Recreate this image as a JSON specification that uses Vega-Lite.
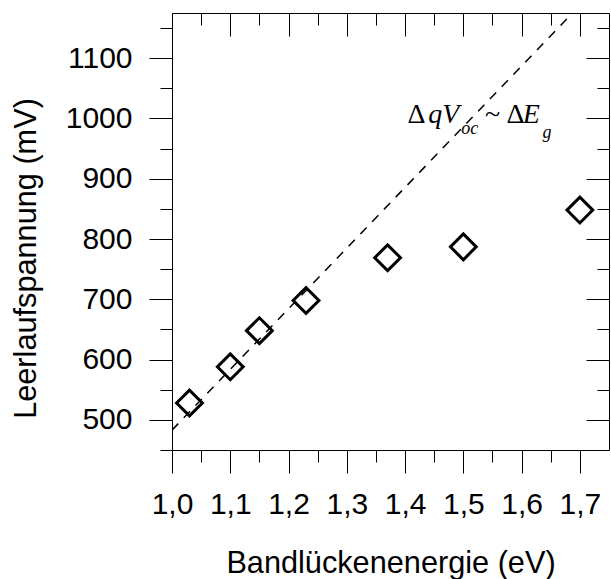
{
  "$schema": "https://vega.github.io/schema/vega-lite/v6.json",
  "width": 437,
  "height": 437,
  "autosize": {"type": "none"},
  "padding": {"left": 172, "top": 13, "right": 2, "bottom": 129},
  "background": "white",
  "config": {
    "view": {"stroke": null},
    "axis": {
      "grid": false,
      "domainColor": "black",
      "tickColor": "black",
      "labelColor": "black",
      "titleColor": "black",
      "labelFont": "Liberation Sans",
      "titleFont": "Liberation Sans",
      "labelFontSize": 30,
      "titleFontSize": 30.7,
      "titleFontWeight": "normal",
      "domainWidth": 1,
      "tickWidth": 1,
      "labelFlush": false,
      "labelOverlap": false
    }
  },
  "datasets": {
    "points": [
      {"e": 1.03, "v": 528},
      {"e": 1.10, "v": 588},
      {"e": 1.15, "v": 648},
      {"e": 1.23, "v": 698},
      {"e": 1.37, "v": 769},
      {"e": 1.50, "v": 787},
      {"e": 1.70, "v": 848}
    ],
    "fit": [
      {"e": 1.0, "v": 483},
      {"e": 1.75, "v": 1238}
    ],
    "upright": [
      {"e": 1.4040, "v": 991.7, "t": "Δ"},
      {"e": 1.5370, "v": 991.7, "t": "~"},
      {"e": 1.5740, "v": 991.7, "t": "Δ"}
    ],
    "italic": [
      {"e": 1.4400, "v": 991.7, "t": "q"},
      {"e": 1.4640, "v": 991.7, "t": "V"},
      {"e": 1.6020, "v": 991.7, "t": "E"}
    ],
    "sub": [
      {"e": 1.4964, "v": 975, "t": "oc"},
      {"e": 1.6358, "v": 967, "t": "g"}
    ]
  },
  "layer": [
    {
      "data": {"name": "fit"},
      "mark": {"type": "line", "color": "black", "strokeWidth": 1.5, "strokeDash": [9, 8], "clip": true},
      "encoding": {
        "x": {
          "field": "e", "type": "quantitative",
          "scale": {"domain": [1.0, 1.75], "nice": false, "zero": false},
          "axis": {
            "orient": "bottom",
            "values": [1.0, 1.1, 1.2, 1.3, 1.4, 1.5, 1.6, 1.7],
            "tickSize": 23,
            "labelPadding": 40,
            "labelBaseline": "alphabetic",
            "labelExpr": "replace(format(datum.value, '.1f'), '.', ',')",
            "title": "Bandlückenenergie (eV)",
            "titleY": 122,
            "titleBaseline": "alphabetic"
          }
        },
        "y": {
          "field": "v", "type": "quantitative",
          "scale": {"domain": [450, 1175], "nice": false, "zero": false},
          "axis": {
            "orient": "left",
            "values": [500, 600, 700, 800, 900, 1000, 1100],
            "tickSize": 23,
            "labelPadding": 17,
            "format": "d",
            "title": "Leerlaufspannung (mV)",
            "titleX": -137,
            "titleY": 245,
            "titleBaseline": "alphabetic",
            "titleAlign": "center"
          }
        }
      }
    },
    {
      "data": {"name": "points"},
      "mark": {"type": "point", "shape": "diamond", "filled": false, "color": "black", "strokeWidth": 3, "size": 665, "opacity": 1},
      "encoding": {
        "x": {
          "field": "e", "type": "quantitative",
          "axis": {
            "orient": "bottom",
            "values": [1.05, 1.15, 1.25, 1.35, 1.45, 1.55, 1.65],
            "tickSize": 12,
            "labels": false,
            "domain": false,
            "title": null
          }
        },
        "y": {
          "field": "v", "type": "quantitative",
          "axis": {
            "orient": "left",
            "values": [450, 550, 650, 750, 850, 950, 1050, 1150],
            "tickSize": 12,
            "labels": false,
            "domain": false,
            "title": null
          }
        }
      }
    },
    {
      "data": {"name": "upright"},
      "mark": {"type": "text", "font": "Liberation Serif", "fontSize": 28, "align": "left", "baseline": "alphabetic", "color": "black"},
      "encoding": {
        "x": {
          "field": "e", "type": "quantitative",
          "axis": {
            "orient": "top",
            "values": [1.0, 1.1, 1.2, 1.3, 1.4, 1.5, 1.6, 1.7],
            "tickSize": -23,
            "labels": false,
            "title": null
          }
        },
        "y": {
          "field": "v", "type": "quantitative",
          "axis": {
            "orient": "right",
            "values": [500, 600, 700, 800, 900, 1000, 1100],
            "tickSize": -23,
            "labels": false,
            "title": null
          }
        },
        "text": {"field": "t"}
      }
    },
    {
      "data": {"name": "italic"},
      "mark": {"type": "text", "font": "Liberation Serif", "fontStyle": "italic", "fontSize": 28, "align": "left", "baseline": "alphabetic", "color": "black"},
      "encoding": {
        "x": {
          "field": "e", "type": "quantitative",
          "axis": {
            "orient": "top",
            "values": [1.05, 1.15, 1.25, 1.35, 1.45, 1.55, 1.65],
            "tickSize": -12,
            "labels": false,
            "domain": false,
            "title": null
          }
        },
        "y": {
          "field": "v", "type": "quantitative",
          "axis": {
            "orient": "right",
            "values": [550, 650, 750, 850, 950, 1050, 1150],
            "tickSize": -12,
            "labels": false,
            "domain": false,
            "title": null
          }
        },
        "text": {"field": "t"}
      }
    },
    {
      "data": {"name": "sub"},
      "mark": {"type": "text", "font": "Liberation Serif", "fontStyle": "italic", "fontSize": 18, "align": "left", "baseline": "alphabetic", "color": "black"},
      "encoding": {
        "x": {"field": "e", "type": "quantitative", "axis": null},
        "y": {"field": "v", "type": "quantitative", "axis": null},
        "text": {"field": "t"}
      }
    }
  ],
  "resolve": {"axis": {"x": "independent", "y": "independent"}}
}
